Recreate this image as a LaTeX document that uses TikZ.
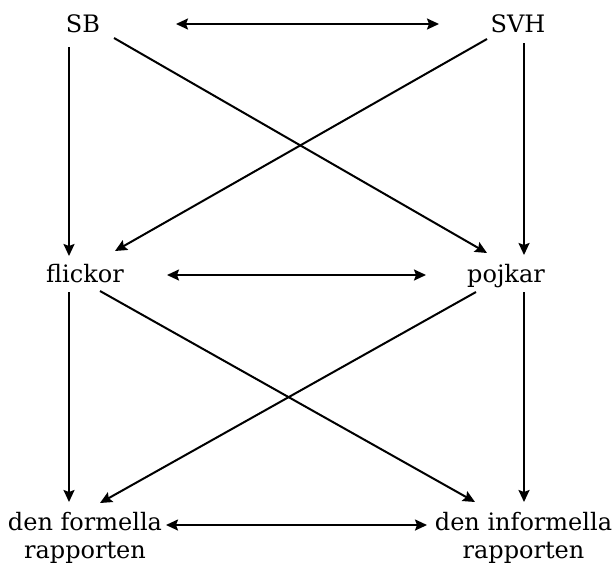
\documentclass[tikz,border=0pt]{standalone}
\usepackage{fontspec}
\setmainfont{DejaVu Serif}
\usetikzlibrary{arrows.meta}
\begin{document}
\begin{tikzpicture}[x=1pt,y=-1pt,
  lbl/.style={anchor=base,inner sep=0pt,font=\fontsize{24}{28}\selectfont,align=center},
  conn/.style={line width=2pt,-{Stealth[length=12pt,width=11pt,inset=2pt]}},
  both/.style={line width=2pt,{Stealth[length=12pt,width=11pt,inset=2pt]}-{Stealth[length=12pt,width=11pt,inset=2pt]}}]
\useasboundingbox (0,0) rectangle (612,565);
\node[lbl] (SB) at (83,32) {SB};
\node[lbl] (SVH) at (518,32) {SVH};
\node[lbl] (flickor) at (85,282) {flickor};
\node[lbl] (pojkar) at (506,282) {pojkar};
\node[lbl] (formella) at (85,558) {den formella\\rapporten};
\node[lbl] (informella) at (523.5,558) {den informella\\rapporten};
% top row
\draw[both] ([shift={(93,-8)}]SB.base) -- ([shift={(-79,-8)}]SVH.base);
\draw[conn] ([shift={(-14,15)}]SB.base) -- ([shift={(-16,-26)}]flickor.base);
\draw[conn] ([shift={(6,11)}]SVH.base) -- ([shift={(18,-27)}]pojkar.base);
\draw[conn] ([shift={(31,6)}]SB.base) -- ([shift={(-19,-29)}]pojkar.base);
\draw[conn] ([shift={(-31,7)}]SVH.base) -- ([shift={(30,-31)}]flickor.base);
% middle row
\draw[both] ([shift={(82,-7)}]flickor.base) -- ([shift={(-80,-7)}]pojkar.base);
\draw[conn] ([shift={(-16,10)}]flickor.base) -- ([shift={(-16,-56)}]formella.base);
\draw[conn] ([shift={(15,9)}]flickor.base) -- ([shift={(-48.5,-56)}]informella.base);
\draw[conn] ([shift={(-30,10)}]pojkar.base) -- ([shift={(15,-55)}]formella.base);
\draw[conn] ([shift={(18,10)}]pojkar.base) -- ([shift={(0.5,-56)}]informella.base);
% bottom row
\draw[both] ([shift={(81,-33)}]formella.base) -- ([shift={(-96.5,-33)}]informella.base);
\end{tikzpicture}
\end{document}
